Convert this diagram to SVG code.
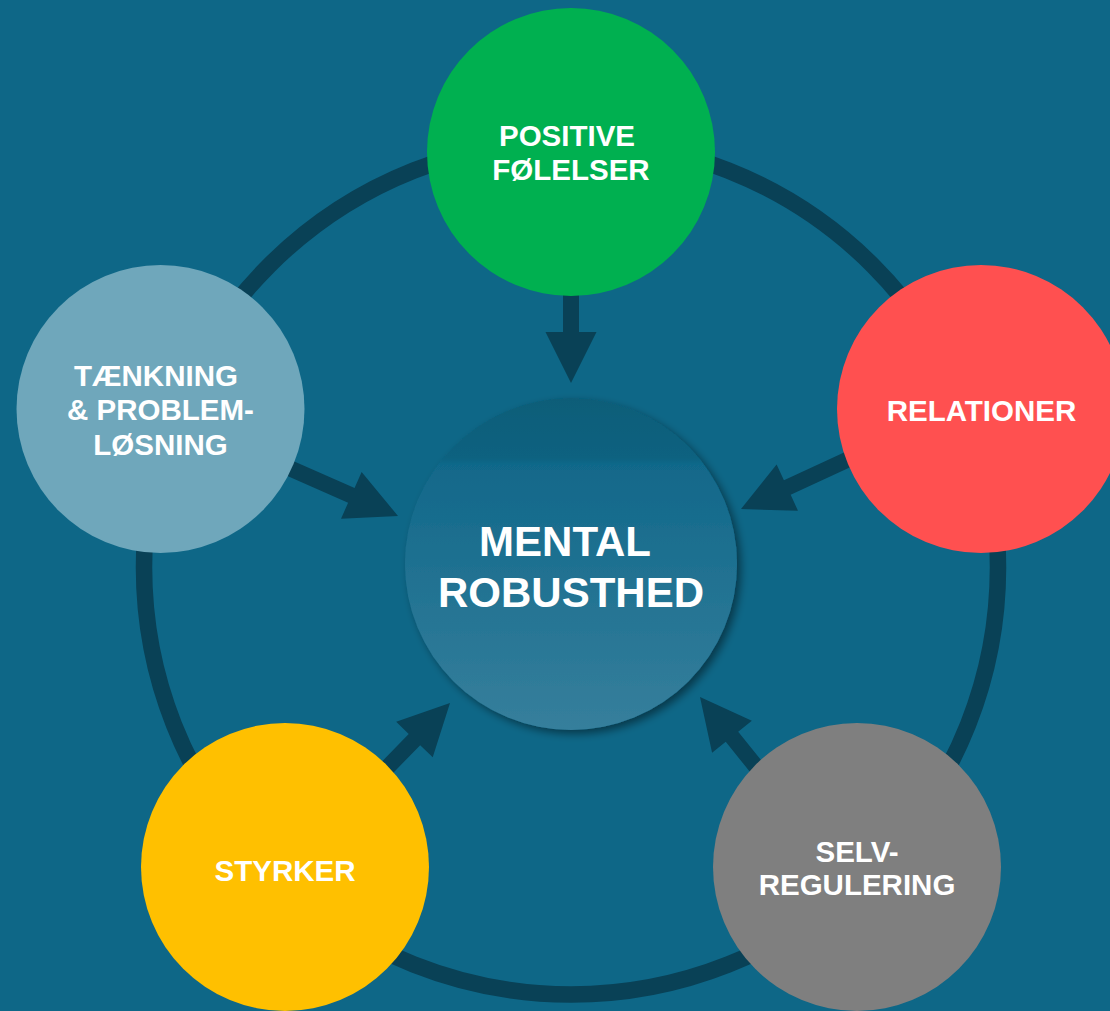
<svg xmlns="http://www.w3.org/2000/svg" width="1110" height="1011" viewBox="0 0 1110 1011">
  <defs>
    <style>
      .label { font-family: "Liberation Sans", Arial, sans-serif; font-weight: bold; fill: #ffffff; text-anchor: middle; }
      .node-text { font-size: 29.5px; }
      .core-text { font-size: 42px; }
      .arrow { fill: #094156; }
    </style>
    <!-- arrow pointing along +x, tip at the origin -->
    <path id="arrow" d="M-200,-8 L-51,-8 L-51,-25.5 L0,0 L-51,25.5 L-51,8 L-200,8 Z"/>
    <linearGradient id="coreFill" x1="0" y1="0" x2="0" y2="1">
      <stop offset="0" stop-color="#0a5d78"/>
      <stop offset="0.18" stop-color="#0c6280"/>
      <stop offset="0.2" stop-color="#11688a"/>
      <stop offset="1" stop-color="#367f9c"/>
    </linearGradient>
    <filter id="coreShadow" x="-20%" y="-20%" width="140%" height="140%">
      <feGaussianBlur in="SourceAlpha" stdDeviation="4"/>
      <feOffset dx="4" dy="4" result="blur"/>
      <feComponentTransfer>
        <feFuncA type="linear" slope="0.45"/>
      </feComponentTransfer>
      <feMerge>
        <feMergeNode/>
        <feMergeNode in="SourceGraphic"/>
      </feMerge>
    </filter>
  </defs>

  <rect x="0" y="0" width="1110" height="1011" fill="#0e6787"/>

  <!-- outer cycle ring and arrows into the core -->
  <g id="connectors">
    <circle cx="571" cy="567.5" r="427" fill="none" stroke="#094156" stroke-width="16.5"/>
    <use href="#arrow" class="arrow" transform="translate(571,383) rotate(90)"/>
    <use href="#arrow" class="arrow" transform="translate(741,509) rotate(155.2)"/>
    <use href="#arrow" class="arrow" transform="translate(398,516) rotate(23.8)"/>
    <use href="#arrow" class="arrow" transform="translate(450,703) rotate(-45.8)"/>
    <use href="#arrow" class="arrow" transform="translate(700,697) rotate(-128.8)"/>
  </g>

  <g id="core">
    <circle cx="571" cy="564" r="166" fill="url(#coreFill)" filter="url(#coreShadow)"/>
    <text class="label core-text" x="565" y="556">MENTAL</text>
    <text class="label core-text" x="571" y="607">ROBUSTHED</text>
  </g>

  <g id="positive-feelings">
    <circle cx="571" cy="152" r="144" fill="#00b050"/>
    <text class="label node-text" x="567" y="146">POSITIVE</text>
    <text class="label node-text" x="571" y="180">FØLELSER</text>
  </g>

  <g id="relations">
    <circle cx="981" cy="409" r="144" fill="#ff5050"/>
    <text class="label node-text" x="981.5" y="421">RELATIONER</text>
  </g>

  <g id="thinking">
    <circle cx="160.5" cy="409" r="144" fill="#6fa7bb"/>
    <text class="label node-text" x="156" y="386">TÆNKNING</text>
    <text class="label node-text" x="160.5" y="420">&amp; PROBLEM-</text>
    <text class="label node-text" x="160.5" y="455">LØSNING</text>
  </g>

  <g id="strengths">
    <circle cx="285" cy="867" r="144" fill="#ffc000"/>
    <text class="label node-text" x="285" y="881">STYRKER</text>
  </g>

  <g id="self-regulation">
    <circle cx="857" cy="867" r="144" fill="#7f7f7f"/>
    <text class="label node-text" x="857" y="862">SELV-</text>
    <text class="label node-text" x="857" y="895">REGULERING</text>
  </g>
</svg>
